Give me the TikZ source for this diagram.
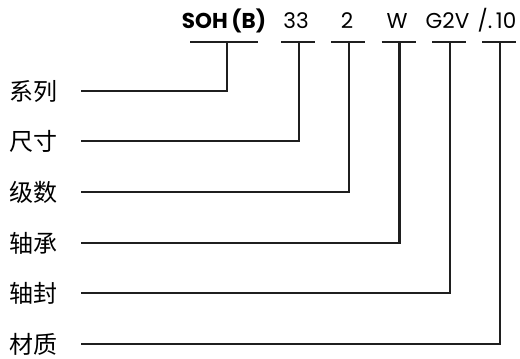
\documentclass[tikz,border=0pt]{standalone}
\usepackage{fontspec}
\setmainfont{Poppins}
\newfontfamily\cjk{Noto Sans CJK SC}
\begin{document}
\begin{tikzpicture}[x=1pt,y=-1pt,
  code/.style={inner sep=0pt,anchor=base,font=\fontsize{21.5}{21.5}\selectfont},
  lab/.style={inner sep=0pt,anchor=west,font=\cjk\fontsize{24}{24}\selectfont},
  wire/.style={line width=2.3pt,color=black!88}]
\useasboundingbox (0,0) rectangle (520,359);
% codes
\node[code,font=\bfseries\fontsize{21.5}{21.5}\selectfont] (t1) at (224,28) {SOH\,(B)};
\node[code] (t2) at (296,28) {33};
\node[code] (t3) at (347,28) {2};
\node[code] (t4) at (397,28) {W};
\node[code] (t5) at (447.5,28) {G2V};
\node[code] (t6) at (497,28) {/.\,10};
% bar centres
\coordinate (c1) at (227,42);
\coordinate (c2) at (299,42);
\coordinate (c3) at (349,42);
\coordinate (c4) at (399.5,42);
\coordinate (c5) at (450,42);
\coordinate (c6) at (500,42);
% bars
\draw[wire] ([xshift=-37pt]c1) -- ([xshift=31pt]c1);
\foreach \i in {2,...,6}{\draw[wire] ([xshift=-18pt]c\i) -- ([xshift=16pt]c\i);}
% labels
\node[lab] (l1) at (9,91) {系列};
\node[lab] (l2) at (9,141) {尺寸};
\node[lab] (l3) at (9,192) {级数};
\node[lab] (l4) at (9,243) {轴承};
\node[lab] (l5) at (9,293) {轴封};
\node[lab] (l6) at (9,344) {材质};
% connectors
\foreach \i in {1,...,6}{\draw[wire] ([xshift=24pt]l\i.east) -| (c\i);}
\end{tikzpicture}
\end{document}
